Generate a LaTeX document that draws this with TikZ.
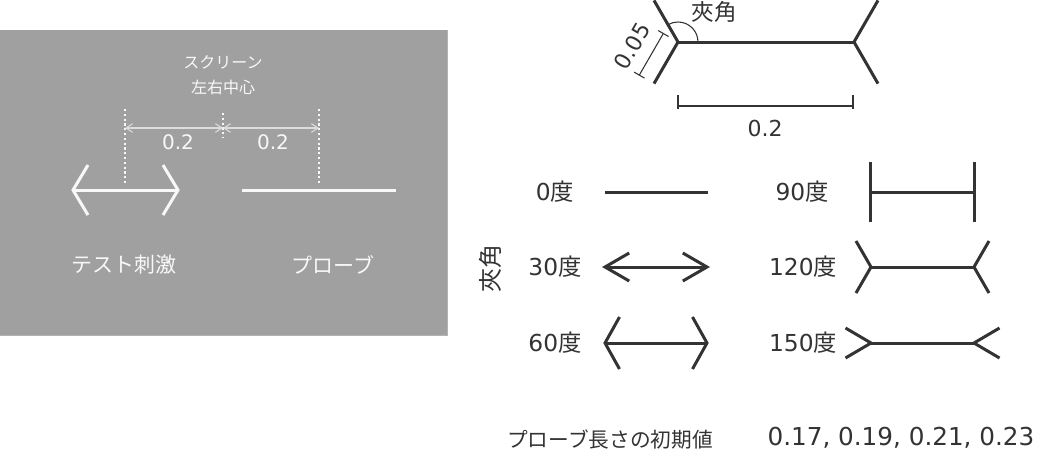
\documentclass[tikz,border=0pt]{standalone}
\usepackage{fontspec}
\setmainfont{DejaVu Sans}
\newfontfamily\jp{Noto Sans CJK JP}
\usetikzlibrary{arrows.meta}
\definecolor{ink}{HTML}{333333}
\definecolor{boxgray}{HTML}{A0A0A0}
\definecolor{boxtext}{HTML}{F8F8F8}
\definecolor{dimlight}{HTML}{DCDCDC}
\begin{document}
\begin{tikzpicture}[x=0.75pt,y=-0.75pt,
  shapeline/.style={draw=ink,line width=2.25pt},
  whiteline/.style={draw=boxtext,line width=2.25pt},
  thinline/.style={draw=ink,line width=0.8pt},
  dotline/.style={draw=boxtext,line width=1.8pt,dash pattern=on 1.6pt off 2pt},
  dimarrow/.style={draw=dimlight,line width=0.8pt,{Straight Barb[length=5pt,width=6.5pt]}-{Straight Barb[length=5pt,width=6.5pt]}},
  lbl/.style={text=ink,font=\fontsize{17.5pt}{20pt}\selectfont,inner sep=0pt},
  boxlbl/.style={text=boxtext,inner sep=0pt}]
\useasboundingbox (0,0) rectangle (1038,451);
\fill[white] (0,0) rectangle (1038,451);
\fill[boxgray] (0,30) rectangle (447,335);
\draw[boxgray!80!white,line width=0.6pt] (447,30) -- (447,335) -- (0,335);

% --- screen panel ---
\node[boxlbl,font=\jp\fontsize{12pt}{14pt}\selectfont] (scr) at (223,62) {スクリーン};
\node[boxlbl,font=\jp\fontsize{12pt}{14pt}\selectfont] (ctr) at (223,87) {左右中心};
\coordinate (dl1) at (125,109); \coordinate (dl2) at (125,183);
\coordinate (dc1) at (223,113); \coordinate (dc2) at (223,138);
\coordinate (dr1) at (319,109); \coordinate (dr2) at (319,183);
\draw[dotline] (dl1) -- (dl2);
\draw[dotline] (dc1) -- (dc2);
\draw[dotline] (dr1) -- (dr2);
\coordinate (ml) at (125,128); \coordinate (mc) at (223,128); \coordinate (mr) at (319,128);
\draw[dimarrow] (ml) -- (mc);
\draw[dimarrow] (mc) -- (mr);
\node[boxlbl,font=\fontsize{15pt}{17pt}\selectfont] (d1) at (178,142) {0.2};
\node[boxlbl,font=\fontsize{15pt}{17pt}\selectfont] (d2) at (273,142) {0.2};
% test stimulus (60 deg)
\coordinate (tl) at (73,190); \coordinate (tr) at (178,190);
\draw[whiteline] (tl) -- (tr);
\draw[whiteline] (88,165) -- (tl) -- (88,215);
\draw[whiteline] (163,165) -- (tr) -- (163,215);
% probe
\coordinate (pl) at (242,190); \coordinate (pr) at (396,190);
\draw[whiteline] (pl) -- (pr);
\node[boxlbl,font=\jp\fontsize{15.75pt}{18pt}\selectfont] (ts) at (124,265) {テスト刺激};
\node[boxlbl,font=\jp\fontsize{15.75pt}{18pt}\selectfont] (pb) at (333,265) {プローブ};

% --- top right definition figure ---
\coordinate (A) at (678,42); \coordinate (B) at (854,42);
\draw[shapeline] (A) -- (B);
\draw[shapeline] (654,0.4) -- (A) -- (654,83.6);
\draw[shapeline] (878,0.4) -- (B) -- (878,83.6);
\draw[thinline] (698,42) arc[start angle=0,end angle=120,radius=15pt];
\node[lbl,font=\jp\fontsize{17pt}{19pt}\selectfont] (ang) at (714,12) {夾角};
% 0.05 dimension
\draw[thinline] (663.3,33.5) -- (639.3,75.1);
\draw[thinline] (668.5,36.5) -- (658.1,30.5);
\draw[thinline] (644.5,78.1) -- (634.1,72.1);
\node[lbl,rotate=60,font=\fontsize{16.5pt}{18pt}\selectfont] (d005) at (632,46) {0.05};
% 0.2 dimension
\coordinate (w1) at (678,106); \coordinate (w2) at (853,106);
\draw[thinline] (w1) -- (w2);
\draw[thinline] (678,95) -- (678,109);
\draw[thinline] (853,95) -- (853,109);
\node[lbl,font=\fontsize{16.5pt}{19pt}\selectfont] (d02) at (765,128) {0.2};

% --- angle variations ---
\node[lbl,rotate=90,font=\jp\fontsize{18pt}{20pt}\selectfont] (side) at (490,268) {夾角};
\node[lbl] (l0) at (555,192) {0{\jp 度}};
\node[lbl] (l30) at (555,267) {30{\jp 度}};
\node[lbl] (l60) at (555,343) {60{\jp 度}};
\node[lbl] (l90) at (802,192) {90{\jp 度}};
\node[lbl] (l120) at (803,267) {120{\jp 度}};
\node[lbl] (l150) at (803,343) {150{\jp 度}};
% 0 deg
\draw[shapeline] (605,192) -- (708,192);
% 30 deg
\coordinate (a30) at (605,267); \coordinate (b30) at (707,267);
\draw[shapeline] (a30) -- (b30);
\draw[shapeline] (629.2,253) -- (a30) -- (629.2,281);
\draw[shapeline] (682.8,253) -- (b30) -- (682.8,281);
% 60 deg
\coordinate (a60) at (605,343); \coordinate (b60) at (707,343);
\draw[shapeline] (a60) -- (b60);
\draw[shapeline] (619.5,317) -- (a60) -- (619.5,369);
\draw[shapeline] (692.5,317) -- (b60) -- (692.5,369);
% 90 deg
\coordinate (a90) at (870,192); \coordinate (b90) at (974,192);
\draw[shapeline] (a90) -- (b90);
\draw[shapeline] (870,162) -- (870,222);
\draw[shapeline] (974,162) -- (974,222);
% 120 deg
\coordinate (a120) at (871,267); \coordinate (b120) at (974,267);
\draw[shapeline] (a120) -- (b120);
\draw[shapeline] (856,241) -- (a120) -- (856,293);
\draw[shapeline] (989,241) -- (b120) -- (989,293);
% 150 deg
\coordinate (a150) at (871,343); \coordinate (b150) at (974,343);
\draw[shapeline] (a150) -- (b150);
\draw[shapeline] (845.5,328) -- (a150) -- (845.5,358);
\draw[shapeline] (999.5,328) -- (b150) -- (999.5,358);

% --- bottom ---
\node[lbl,font=\jp\fontsize{15.5pt}{18pt}\selectfont] (init) at (610,439) {プローブ長さの初期値};
\node[lbl,font=\fontsize{18.5pt}{21pt}\selectfont] (vals) at (901,438) {0.17, 0.19, 0.21, 0.23};
\end{tikzpicture}
\end{document}
